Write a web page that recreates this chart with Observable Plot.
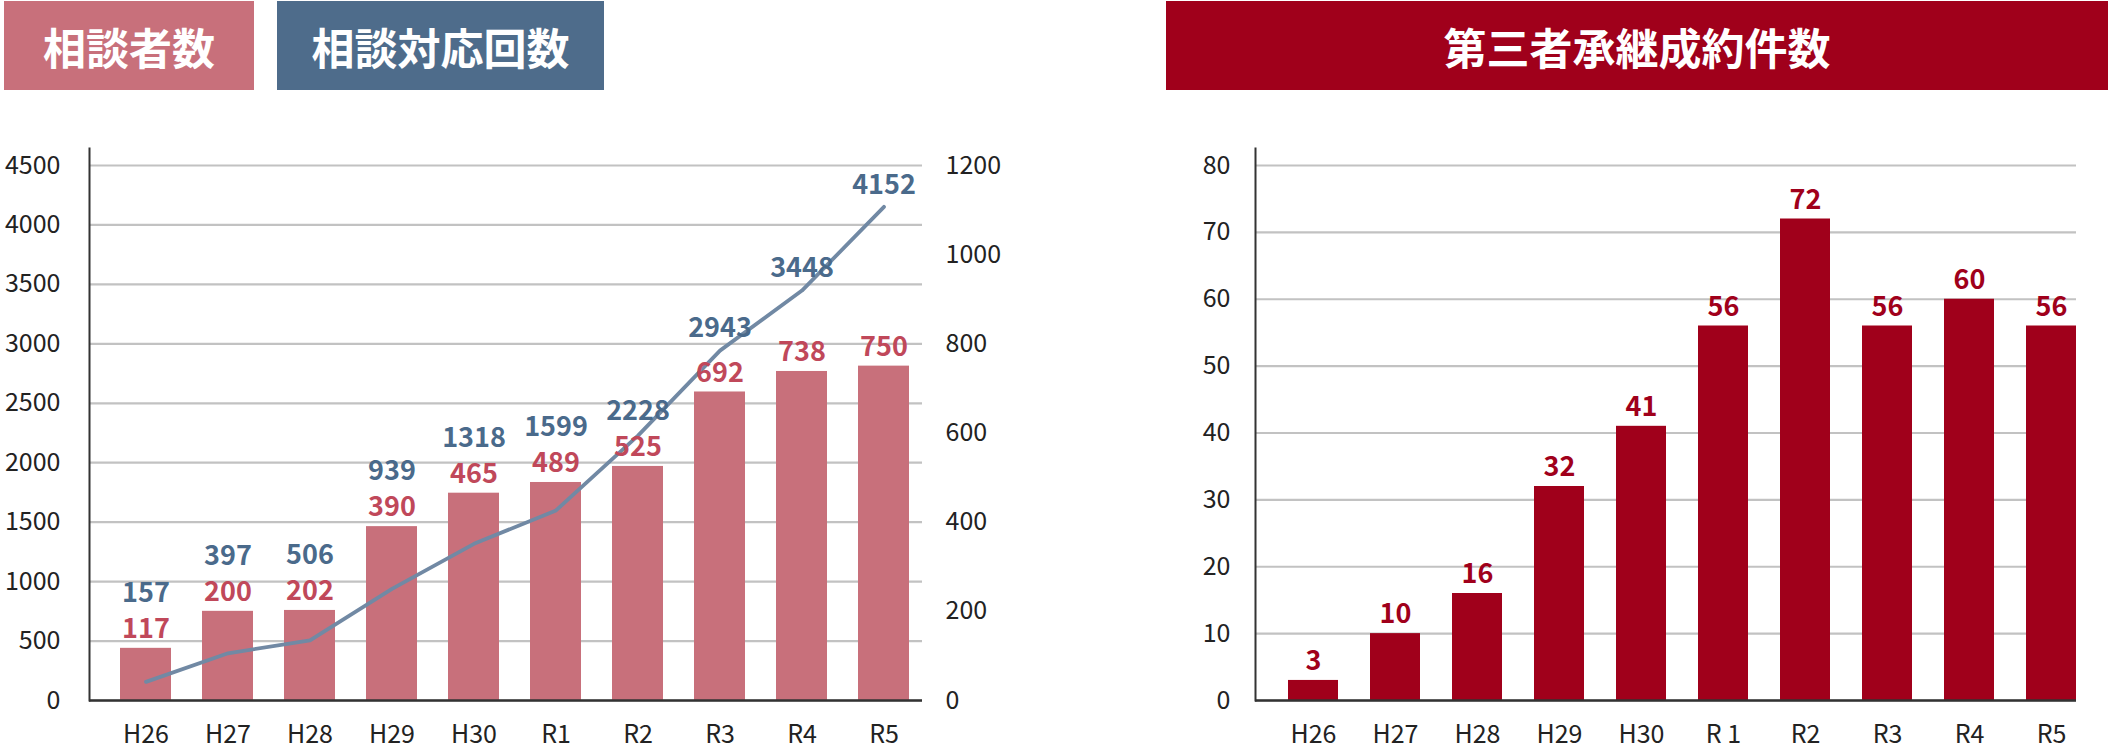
<!DOCTYPE html>
<html>
<head>
<meta charset="utf-8">
<script src="https://cdn.jsdelivr.net/npm/d3@7"></script>
<script src="https://cdn.jsdelivr.net/npm/@observablehq/plot@0.6"></script>
<style>
  html, body { margin: 0; padding: 0; background: #fff; }
  #wrap { position: relative; width: 2108px; height: 750px; overflow: hidden; font-family: "Noto Sans CJK JP", "Noto Sans", sans-serif; }
  .hdr { position: absolute; top: 1px; height: 89px; color: #fff; font-weight: 700; font-size: 43px;
         display: flex; align-items: center; justify-content: center; letter-spacing: 0; }
  .plot { position: absolute; top: 0; }
</style>
</head>
<body>
<div id="wrap">
  <div class="hdr" style="left:4px;width:250px;background:#c8707b;">相談者数</div>
  <div class="hdr" style="left:277px;width:327px;background:#4e6c8b;">相談対応回数</div>
  <div class="hdr" style="left:1166px;width:942px;background:#a0001b;">第三者承継成約件数</div>
  <div class="plot" id="left" style="left:0px;"></div>
  <div class="plot" id="right" style="left:1050px;"></div>
</div>
<script>
// ---- data ----
const years = ["H26","H27","H28","H29","H30","R1","R2","R3","R4","R5"];
const consultees = [117, 200, 202, 390, 465, 489, 525, 692, 738, 750];      // 相談者数 (right axis)
const responses = [157, 397, 506, 939, 1318, 1599, 2228, 2943, 3448, 4152]; // 相談対応回数 (left axis)
const yearsR = ["H26","H27","H28","H29","H30","R 1","R2","R3","R4","R5"];
const contracts = [3, 10, 16, 32, 41, 56, 72, 56, 60, 56];                   // 第三者承継成約件数
const leftTicks = [0, 500, 1000, 1500, 2000, 2500, 3000, 3500, 4000, 4500];
const rightTicks = [0, 200, 400, 600, 800, 1000, 1200];
const contractTicks = [0, 10, 20, 30, 40, 50, 60, 70, 80];

const pink = "#c8707b", pinkText = "#c0485a", blueText = "#4a6a8b", lineColor = "#7189a4", red = "#a0001b";
const gridColor = "#c2c2c2", axisColor = "#333";
const font = "'Noto Sans CJK JP', 'Noto Sans', sans-serif";

// ---- left chart ----
const k = 4500 / 1200; // right axis (相談者数) mapped onto left axis units
const leftData = years.map((y, i) => ({year: y, people: consultees[i], count: responses[i]}));
const H = 750, plotTop = 148, plotBottom = 700;
const yTopL = 4500 * (plotBottom - plotTop) / (plotBottom - 165);

const left = Plot.plot({
  width: 1050, height: H,
  marginLeft: 89, marginRight: 128, marginTop: plotTop, marginBottom: H - plotBottom,
  style: {fontFamily: font, fontSize: "25px", color: "#222", background: "transparent"},
  x: {type: "band", domain: years, range: [104, 924], paddingInner: 0.38, paddingOuter: 0.19, label: null},
  y: {domain: [0, yTopL], label: null},
  marks: [
    Plot.gridY(leftTicks, {stroke: gridColor, strokeOpacity: 1, strokeWidth: 2.2}),
    Plot.barY(leftData, {x: "year", y: d => d.people * k, fill: pink}),
    Plot.ruleY([0], {stroke: axisColor, strokeWidth: 2.5}),
    Plot.frame({anchor: "left", stroke: axisColor, strokeWidth: 2}),
    Plot.line(leftData, {x: "year", y: "count", stroke: lineColor, strokeWidth: 3.8, curve: "linear"}),
    Plot.text(leftData, {x: "year", y: d => d.people * k, text: d => String(d.people), dy: -19,
      fill: pinkText, fontWeight: 700, fontSize: 27}),
    Plot.text(leftData, {x: "year", y: d => Math.max(d.people * k + 463, d.count + 185), text: d => String(d.count),
      fill: blueText, fontWeight: 700, fontSize: 27}),
    Plot.axisY({anchor: "left", ticks: leftTicks, tickFormat: d => String(d), tickSize: 0, tickPadding: 29, label: null, fontSize: 25}),
    Plot.axisY({anchor: "right", ticks: rightTicks.map(t => t * k), tickFormat: d => String(Math.round(d / k)),
      tickSize: 0, tickPadding: 23, label: null, fontSize: 25}),
    Plot.axisX({tickSize: 0, tickPadding: 25, label: null, fontSize: 25})
  ]
});
document.getElementById("left").appendChild(left);

// ---- right chart ----
const rightData = yearsR.map((y, i) => ({year: y, n: contracts[i]}));
const yTopR = 80 * (plotBottom - plotTop) / (plotBottom - 165);
const right = Plot.plot({
  width: 1058, height: H,
  marginLeft: 205, marginRight: 32, marginTop: plotTop, marginBottom: H - plotBottom,
  style: {fontFamily: font, fontSize: "25px", color: "#222", background: "transparent"},
  x: {type: "band", domain: yearsR, range: [222, 1042], paddingInner: 0.39, paddingOuter: 0.195, label: null},
  y: {domain: [0, yTopR], label: null},
  marks: [
    Plot.gridY(contractTicks, {stroke: gridColor, strokeOpacity: 1, strokeWidth: 2.2}),
    Plot.barY(rightData, {x: "year", y: "n", fill: red}),
    Plot.ruleY([0], {stroke: axisColor, strokeWidth: 2.5}),
    Plot.frame({anchor: "left", stroke: axisColor, strokeWidth: 2}),
    Plot.text(rightData, {x: "year", y: "n", text: d => String(d.n), dy: -19,
      fill: red, fontWeight: 700, fontSize: 27}),
    Plot.axisY({anchor: "left", ticks: contractTicks, tickFormat: d => String(d), tickSize: 0, tickPadding: 25, label: null, fontSize: 25}),
    Plot.axisX({tickSize: 0, tickPadding: 25, label: null, fontSize: 25})
  ]
});
document.getElementById("right").appendChild(right);
</script>
</body>
</html>
